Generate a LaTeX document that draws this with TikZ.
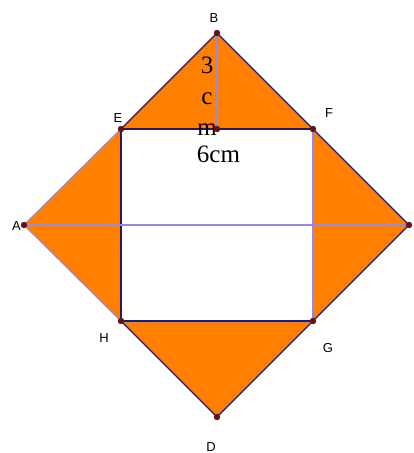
\documentclass[tikz,border=0pt]{standalone}
\usepackage{fontspec}
\setmainfont{Liberation Serif}
\setsansfont{Liberation Sans}
\usetikzlibrary{positioning, calc}
\definecolor{edge}{HTML}{1A1A80}
\definecolor{lilac}{HTML}{9A88E0}
\definecolor{fillor}{HTML}{FF7F00}
\definecolor{pt}{HTML}{7A0A0A}
\tikzset{
  %
  side/.style={draw=edge, line width=1.1pt, line join=round},
  aux/.style={draw=lilac, line width=1.2pt},
  dot/.style={circle, fill=pt, draw=black!80, line width=0.4pt,
              inner sep=0pt, minimum size=6pt},
  ptlbl/.style={font=\sffamily\fontsize{13}{15}\selectfont, text=black, inner sep=0pt},
  meas/.style={font=\rmfamily\fontsize{25}{31}\selectfont, text=black,
               inner sep=0pt, align=center},
}
\begin{document}
\begin{tikzpicture}[x=1pt, y=-1pt]
  \useasboundingbox (0,0) rectangle (414,453);

  % --- points -----------------------------------------------------------
  \coordinate (A) at (24,225);
  \coordinate (B) at (217,33);
  \coordinate (C) at (409,225);
  \coordinate (D) at (217,417);
  \coordinate (E) at (121,129);
  \coordinate (F) at (313,129);
  \coordinate (G) at (313,321);
  \coordinate (H) at (121,321);
  \coordinate (M) at (217,129);

  % --- shaded corners ---------------------------------------------------
  \fill[fillor] (A) -- (B) -- (C) -- (D) -- cycle;
  \fill[white] (E) -- (F) -- (G) -- (H) -- cycle;

  % --- sides ------------------------------------------------------------
  \draw[side] (E) -- (B) -- (C) -- (D) -- (H);
  \draw[side] (E) -- (F);
  \draw[side] (G) -- (H) -- (E);
  \draw[aux] (H) -- (A) -- (E);
  \draw[aux] (F) -- (G);
  \draw[aux] (A) -- (C);
  \draw[aux] (B) -- (M);

  % --- measures ---------------------------------------------------------
  \node[meas, anchor=base] (h) at (207,135) {3\\c\\m};
  \node[meas, anchor=base] (w) at (218.5,162) {6cm};

  % --- dots and names ---------------------------------------------------
  \foreach \p in {A,B,C,D,E,F,G,H,M}
    \node[dot] (d\p) at (\p) {};
  \node[ptlbl] (lA) at (16.5,226.5) {A};
  \node[ptlbl] (lB) at (214,18) {B};
  \node[ptlbl] (lE) at (118,118) {E};
  \node[ptlbl] (lF) at (329,113) {F};
  \node[ptlbl] (lG) at (328,348) {G};
  \node[ptlbl] (lH) at (104,338) {H};
  \node[ptlbl] (lD) at (211,447) {D};

\end{tikzpicture}
\end{document}
